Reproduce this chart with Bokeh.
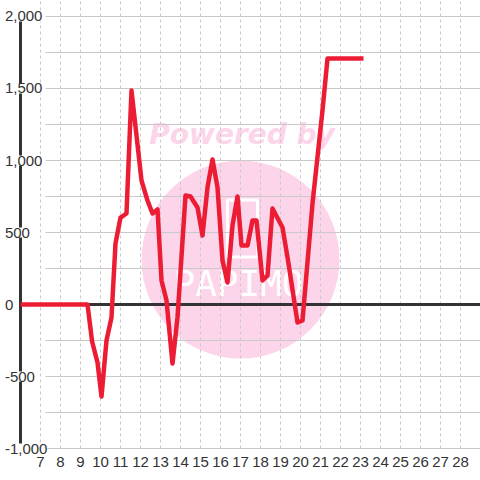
from bokeh.plotting import figure
from bokeh.embed import file_html
from bokeh.resources import INLINE
from bokeh.core.properties import value

# ---- data ----
days = [6.0, 9.35, 9.58, 9.85, 10.05, 10.3, 10.55, 10.75, 11.0, 11.3, 11.55,
        12.05, 12.35, 12.6, 12.85, 13.05, 13.3, 13.6, 13.85, 14.25, 14.5,
        14.85, 15.1, 15.35, 15.6, 15.85, 16.1, 16.35, 16.6, 16.85, 17.05,
        17.35, 17.6, 17.8, 18.1, 18.35, 18.6, 19.1, 19.4, 19.85, 20.1,
        20.6, 21.1, 21.35, 23.15]
values = [0, 0, -257, -403, -639, -250, -90, 424, 604, 632, 1486,
          861, 722, 632, 660, 167, 28, -410, -90, 757, 750,
          674, 479, 813, 1007, 813, 306, 153, 549, 750, 410,
          410, 583, 583, 167, 201, 667, 535, 285, -125, -111,
          701, 1347, 1708, 1708]

x_ticks = list(range(7, 29))
x_tick_labels = [str(v) for v in x_ticks]
y_ticks = [-1000, -500, 0, 500, 1000, 1500, 2000]
y_tick_labels = ["-1,000", "-500", "0", "500", "1,000", "1,500", "2,000"]
y_grid = [-1000, -750, -500, -250, 250, 500, 750, 1000, 1250, 1500, 1750, 2000]

# ---- layout constants ----
X0, X1 = 5.0, 29.0
Y0, Y1 = -1222.2, 2111.1
AXIS_X = 6.0
GRID_X0 = 7.25
LABEL_X = 5.22
XLABEL_Y = -1097

RED = "#ec1c35"
DARK = "#333333"
GRID = "#c9c9c9"
PINK = "#fcd5eb"

p = figure(width=480, height=480, x_range=(X0, X1), y_range=(Y0, Y1),
           output_backend="svg", toolbar_location=None,
           x_axis_location=None, y_axis_location=None, min_border=0)
p.grid.visible = False
p.outline_line_color = None
p.background_fill_color = "white"
p.border_fill_color = "white"

# watermark
p.ellipse(x=17.0, y=312, width=198, height=198, width_units="screen",
          height_units="screen", fill_color=PINK, line_color=None)
p.text(x=[17.08], y=[1180], text=["Powered by"], text_align="center",
       text_baseline="middle", text_color=PINK,
       text_font=value("DejaVu Sans"), text_font_size="28px",
       text_font_style="bold italic")
p.rect(x=17.1, y=528, width=30, height=57, width_units="screen",
       height_units="screen", fill_color=None, line_color="white", line_width=3)
p.text(x=[16.9], y=[146], text=["PAPIMO"], text_align="center",
       text_baseline="middle", text_color="white",
       text_font=value("DejaVu Sans Mono"), text_font_size="36px")

# grid
p.segment(x0=x_ticks, x1=x_ticks, y0=[-1000] * len(x_ticks),
          y1=[Y1] * len(x_ticks), line_color=GRID, line_width=1,
          line_dash="3 3")
p.segment(x0=[GRID_X0] * len(y_grid), x1=[X1] * len(y_grid), y0=y_grid,
          y1=y_grid, line_color=GRID, line_width=1)

# axis and zero line
p.segment(x0=[AXIS_X], x1=[AXIS_X], y0=[-1000], y1=[2000], line_color=DARK,
          line_width=3)
p.segment(x0=[AXIS_X], x1=[X1], y0=[0], y1=[0], line_color=DARK, line_width=3)

# series
p.line(days, values, line_color=RED, line_width=4.5, line_join="round")

# tick labels
p.text(x=[LABEL_X] * len(y_ticks), y=y_ticks, text=y_tick_labels,
       text_align="left", text_baseline="middle", text_color=DARK,
       text_font=value("Liberation Sans"), text_font_size="15px",
       background_fill_color="white")
p.text(x=x_ticks, y=[XLABEL_Y] * len(x_ticks), text=x_tick_labels,
       text_align="center", text_baseline="middle", text_color=DARK,
       text_font=value("Liberation Sans"), text_font_size="15px")

open("out.html", "w").write(file_html(p, INLINE))
